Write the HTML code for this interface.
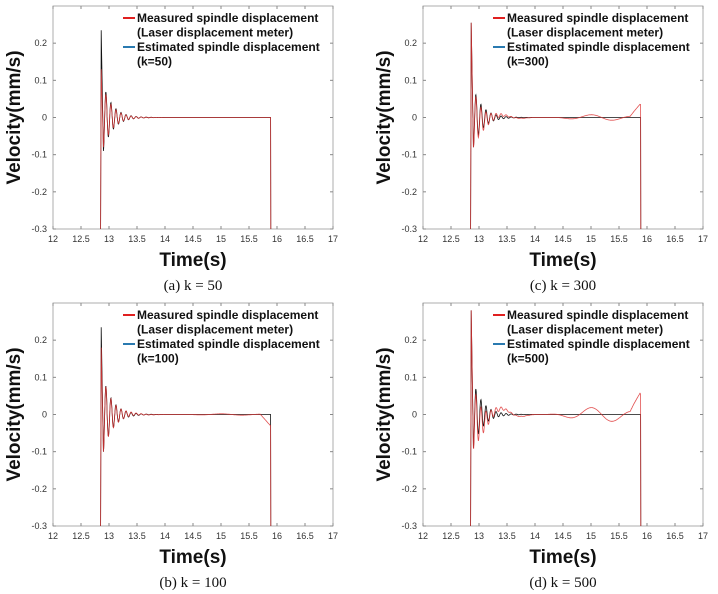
<!DOCTYPE html>
<html><head><meta charset="utf-8"><style>
body{margin:0;background:#fff;width:718px;height:594px;overflow:hidden;font-family:"Liberation Sans",sans-serif}
svg{position:absolute;left:0;top:0}
</style></head><body>
<svg id="s" width="718" height="594" xmlns="http://www.w3.org/2000/svg"></svg>
<script>
const S=document.getElementById('s');let h='';
const panels=[
 {x:53,y:6,k:'50',cap:'(a) k = 50',p1:0.235,p2:0.13,a1:0.09,a2:0.08,wob:0,end:0},
 {x:423,y:6,k:'300',cap:'(c) k = 300',p1:0.255,p2:0.255,a1:0.08,a2:0.08,wob:0.004,end:0.035},
 {x:53,y:303,k:'100',cap:'(b) k = 100',p1:0.235,p2:0.18,a1:0.1,a2:0.1,wob:0.001,end:-0.03},
 {x:423,y:303,k:'500',cap:'(d) k = 500',p1:0.28,p2:0.28,a1:0.09,a2:0.09,wob:0.01,end:0.055}];
for(const P of panels){
 const W=280,H=223,X=t=>P.x+(t-12)*56,Y=v=>P.y+H*(0.3-v)/0.6;
 h+=`<rect x="${P.x}" y="${P.y}" width="${W}" height="${H}" fill="#fff" stroke="#999" stroke-width="0.8"/>`;
 for(let i=0;i<=10;i++){const t=12+i*0.5,x=X(t);h+=`<line x1="${x}" y1="${P.y+H}" x2="${x}" y2="${P.y+H-3}" stroke="#888"/><line x1="${x}" y1="${P.y}" x2="${x}" y2="${P.y+3}" stroke="#888"/><text x="${x}" y="${P.y+H+13}" font-size="9" text-anchor="middle" fill="#333">${t}</text>`;}
 for(let i=0;i<=6;i++){const v=-0.3+i*0.1;if(v>0.25)continue;const y=Y(v);const lab=Math.abs(v)<1e-9?'0':v.toFixed(1);
  h+=`<line x1="${P.x}" y1="${y}" x2="${P.x+3}" y2="${y}" stroke="#888"/><line x1="${P.x+W}" y1="${y}" x2="${P.x+W-3}" y2="${y}" stroke="#888"/><text x="${P.x-6}" y="${y+3}" font-size="9" text-anchor="end" fill="#333">${lab}</text>`;}
 function sig(peak,amp,wob,end,phase){let pts=[[12.85,-0.3],[12.86,peak],[12.9,-amp]];
  for(let t=12.905;t<15.88;t+=0.005){const d=t-12.9;let v=-amp*Math.exp(-d*6)*Math.cos(2*Math.PI*d/0.09);
   if(wob)v+=wob*Math.sin(t*8+phase)*(1+Math.sin(t*3))+(t>15.7?end*(t-15.7)/0.18:0);pts.push([t,v]);}
  pts.push([15.885,end]);pts.push([15.89,-0.3]);
  return 'M'+pts.map(p=>X(p[0]).toFixed(1)+','+Y(p[1]).toFixed(1)).join('L');}
 h+=`<path d="${sig(P.p1,P.a1,0,0,0)}" fill="none" stroke="#111" stroke-width="0.8"/>`;
 h+=`<path d="${sig(P.p2,P.a2,P.wob,P.end,1)}" fill="none" stroke="#d33" stroke-width="0.8" opacity="0.85"/>`;
 const lx=P.x+70,ly=P.y+16;
 h+=`<line x1="${lx}" y1="${ly-4}" x2="${lx+12}" y2="${ly-4}" stroke="#e02020" stroke-width="2"/>`;
 h+=`<line x1="${lx}" y1="${ly+25}" x2="${lx+12}" y2="${ly+25}" stroke="#2a7ab0" stroke-width="2"/>`;
 const ts=['Measured spindle displacement','(Laser displacement meter)','Estimated spindle displacement',`(k=${P.k})`];
 ts.forEach((s,i)=>h+=`<text x="${lx+14}" y="${ly+i*14.5}" font-size="12" font-weight="bold" fill="#111">${s}</text>`);
 h+=`<text x="${P.x+W/2}" y="${P.y+H+37}" font-size="19" font-weight="bold" text-anchor="middle" fill="#111">Time(s)</text>`;
 h+=`<text x="${P.x+W/2}" y="${P.y+H+61}" font-size="15" text-anchor="middle" font-family="Liberation Serif" fill="#111">${P.cap}</text>`;
 h+=`<text transform="translate(${P.x-33},${P.y+H/2}) rotate(-90)" font-size="19" font-weight="bold" text-anchor="middle" fill="#111">Velocity(mm/s)</text>`;
}
S.innerHTML=h;
</script>
</body></html>
